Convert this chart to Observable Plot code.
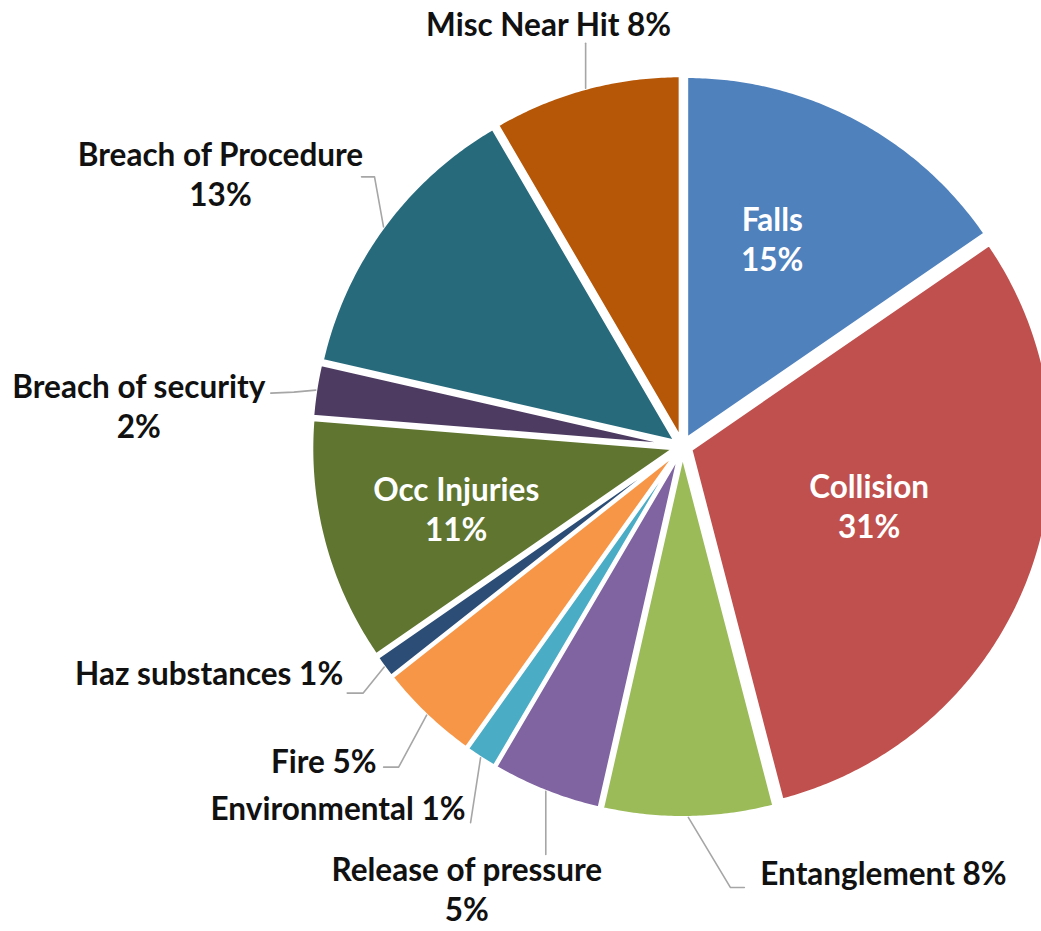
<!DOCTYPE html>
<html>
<head>
<meta charset="utf-8">
<script src="https://cdn.jsdelivr.net/npm/d3@7"></script>
<script src="https://cdn.jsdelivr.net/npm/@observablehq/plot@0.6"></script>
<style>
  html, body { margin: 0; padding: 0; background: #fff; }
  #chart svg { display: block; }
</style>
</head>
<body>
<div id="chart"></div>
<script>
// ---- data ----
const categories = ["Falls", "Collision", "Entanglement", "Release of pressure", "Environmental",
  "Fire", "Haz substances", "Occ Injuries", "Breach of security", "Breach of Procedure", "Misc Near Hit"];
const values = [15.4, 30.5, 7.6, 4.9, 1.4, 4.5, 1.0, 10.9, 2.3, 13.0, 8.4];
const colors = ["#4F81BD", "#C0504D", "#9BBB59", "#8064A2", "#4BACC6",
  "#F79646", "#2C4D75", "#5F7530", "#4D3B62", "#276A7C", "#B65708"];

// ---- layout (styling only) ----
const W = 1041, H = 931;
const cx = 682, cy = 446, R = 362, explode = 9;
// label placement relative to the slice's outer-arc midpoint; leader as offsets from the same point
const layout = {
  "Falls":               {inside: true,  two: true,  dx: -83,  dy: 120,  anchor: "middle"},
  "Collision":           {inside: true,  two: true,  dx: -161, dy: -71,  anchor: "middle"},
  "Entanglement":        {inside: false, two: false, dx: 72,   dy: 55,   anchor: "start",  leader: [[0,0],[42,70],[56,70]]},
  "Release of pressure": {inside: false, two: true,  dx: -79,  dy: 97,   anchor: "middle", leader: [[0,0],[0,63]]},
  "Environmental":       {inside: false, two: false, dx: -15,  dy: 49,   anchor: "end",    leader: [[0,0],[-10,65]]},
  "Fire":                {inside: false, two: false, dx: -50,  dy: 45,   anchor: "end",    leader: [[0,0],[-28,52],[-43,52]]},
  "Haz substances":      {inside: false, two: false, dx: -41,  dy: 5,    anchor: "end",    leader: [[0,0],[-21,26],[-37,26]]},
  "Occ Injuries":        {inside: true,  two: true,  dx: 132,  dy: -35,  anchor: "middle"},
  "Breach of security":  {inside: false, two: true,  dx: -177, dy: 15,   anchor: "middle", leader: [[0,0],[-22,2],[-45,3]]},
  "Breach of Procedure": {inside: false, two: true,  dx: -163, dy: -54,  anchor: "middle", leader: [[0,0],[-9,-50],[-22,-50]]},
  "Misc Near Hit":       {inside: false, two: false, dx: -37,  dy: -65,  anchor: "middle", leader: [[0,0],[0,-45]]}
};

// ---- geometry from values ----
const total = d3.sum(values);
const slices = [];
let acc = 0;
categories.forEach((cat, i) => {
  const a0 = acc / total * 2 * Math.PI;
  acc += values[i];
  const a1 = acc / total * 2 * Math.PI;
  const m = (a0 + a1) / 2;
  const ox = cx + explode * Math.sin(m), oy = cy - explode * Math.cos(m);
  const pts = [{x: ox, y: oy}];
  const n = Math.max(2, Math.ceil((a1 - a0) / (Math.PI / 360)));
  for (let k = 0; k <= n; k++) {
    const t = a0 + (a1 - a0) * k / n;
    pts.push({x: ox + R * Math.sin(t), y: oy - R * Math.cos(t)});
  }
  pts.push({x: ox, y: oy});
  const arcX = ox + R * Math.sin(m), arcY = oy - R * Math.cos(m);
  const pct = Math.round(values[i] / total * 100) + "%";
  slices.push({cat, color: colors[i], pts, arcX, arcY, pct});
});

const labels = slices.map(s => {
  const L = layout[s.cat];
  return {
    cat: s.cat,
    x: s.arcX + L.dx, y: s.arcY + L.dy,
    text: L.two ? s.cat + "\n" + s.pct : s.cat + " " + s.pct,
    inside: L.inside, anchor: L.anchor
  };
});
const leaders = [];
slices.forEach(s => {
  const L = layout[s.cat];
  if (L.leader) L.leader.forEach(([dx, dy]) => leaders.push({cat: s.cat, x: s.arcX + dx, y: s.arcY + dy}));
});

const textOpts = {x: "x", y: "y", text: "text", fontFamily: "Lato", fontWeight: "bold", fontSize: 31.5, lineHeight: 1.27};

const marks = [];
slices.forEach(s => marks.push(Plot.line(s.pts, {x: "x", y: "y", fill: s.color, stroke: "white", strokeWidth: 3, strokeLinejoin: "round"})));
marks.push(Plot.line(leaders, {x: "x", y: "y", z: "cat", stroke: "#A6A6A6", strokeWidth: 1.6}));
marks.push(Plot.text(labels.filter(d => d.inside), {...textOpts, fill: "white", textAnchor: "middle"}));
["middle", "start", "end"].forEach(a =>
  marks.push(Plot.text(labels.filter(d => !d.inside && d.anchor === a), {...textOpts, fill: "#111", textAnchor: a})));

const chart = Plot.plot({
  width: W, height: H,
  margin: 0,
  x: {domain: [0, W], range: [0, W], axis: null},
  y: {domain: [0, H], range: [0, H], axis: null},
  style: {background: "white"},
  marks
});
document.getElementById("chart").appendChild(chart);
</script>
</body>
</html>
